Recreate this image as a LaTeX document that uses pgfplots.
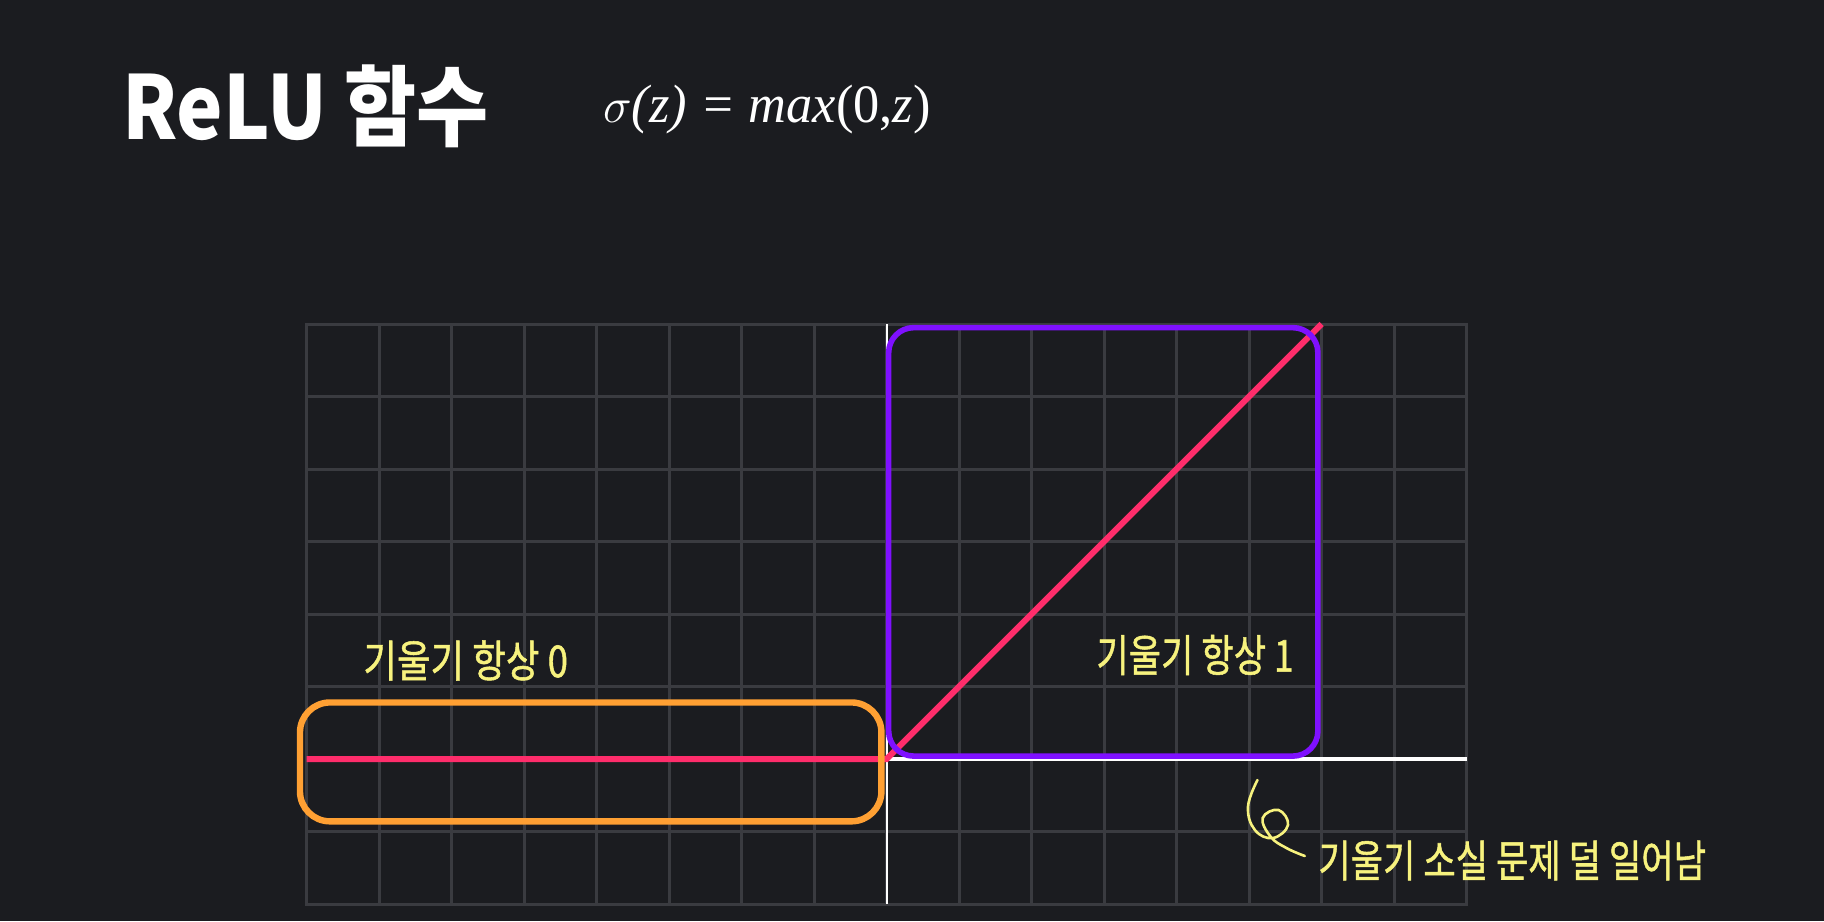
\documentclass[border=0pt]{standalone}
\usepackage{pgfplots}
\pgfplotsset{compat=1.18}
\usepackage{fontspec}
\setmainfont{Liberation Serif}
\newfontfamily\kr{Noto Sans CJK KR}
\newfontfamily\krhand{Noto Sans CJK KR}[FakeBold=1.2]
\definecolor{bg}{HTML}{1B1C20}
\definecolor{gridc}{HTML}{3A3B40}
\definecolor{relured}{HTML}{FF2D6B}
\definecolor{vio}{HTML}{7F10FF}
\definecolor{org}{HTML}{FFA033}
\definecolor{hand}{HTML}{F7F27E}
\begin{document}
\begin{tikzpicture}
\fill[bg] (0,0) rectangle (912pt,460.5pt);
\useasboundingbox (0,0) rectangle (912pt,460.5pt);
\begin{axis}[
  at={(153.25pt,8.5pt)}, anchor=south west,
  scale only axis, width=580pt, height=290pt,
  xmin=-8, xmax=8, ymin=-2, ymax=6,
  xtick={-8,...,8}, ytick={-2,...,6},
  xticklabels={}, yticklabels={},
  major tick length=0pt,
  grid=major,
  major grid style={draw=gridc, line width=1.5pt},
  axis line style={draw=gridc, line width=1.5pt},
  clip=false,
]
\draw[white, line width=1pt] (axis cs:0,-2) -- (axis cs:0,6);
\draw[white, line width=1.6pt] (axis cs:0,0) -- (axis cs:8,0);
\addplot[color=relured, line width=3pt, mark=none] coordinates {(-8,0) (0,0) (6,6)};
\draw[vio, line width=2.8pt, rounded corners=12.5pt] (axis cs:0.03,0.04) rectangle (axis cs:5.95,5.95);
\draw[org, line width=3.2pt, rounded corners=15pt] (axis cs:-8.09,-0.86) rectangle (axis cs:-0.07,0.78);
\end{axis}
% title
\node[anchor=base west, inner sep=0, text=white, xscale=0.89] at (61pt,390.7pt) {\kr\bfseries\fontsize{44pt}{50pt}\selectfont ReLU 함수};
\node[anchor=west, inner sep=0, text=white, xscale=0.97] at (301.5pt,405.5pt) {\fontsize{27pt}{32pt}\selectfont $\sigma$\itshape(z) = max\upshape(0,\itshape z\upshape)};
% annotations
\node[anchor=west, inner sep=0, text=hand, xscale=0.83] at (181.5pt,130.25pt) {\krhand\fontsize{22pt}{26pt}\selectfont 기울기 항상 0};
\node[anchor=west, inner sep=0, text=hand, xscale=0.8] at (548pt,133pt) {\krhand\fontsize{22pt}{26pt}\selectfont 기울기 항상 1};
\node[anchor=west, inner sep=0, text=hand, xscale=0.8] at (659pt,30.25pt) {\krhand\fontsize{22pt}{26pt}\selectfont 기울기 소실 문제 덜 일어남};
\draw[hand, line width=1.3pt, line cap=round] plot[smooth, tension=0.7] coordinates {
 (628.75pt,70.5pt) (624pt,57.15pt) (627.45pt,45.5pt) (636.5pt,41.5pt) (644pt,48pt)
 (639.25pt,55.5pt) (631.35pt,51.5pt) (635.3pt,42.15pt) (643.2pt,36.5pt) (652.4pt,32.5pt)};
\end{tikzpicture}
\end{document}
